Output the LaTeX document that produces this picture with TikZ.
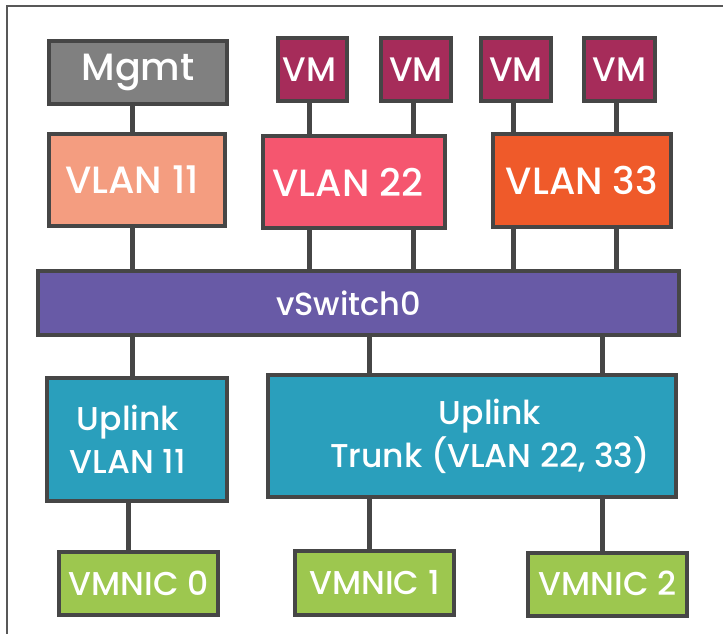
\documentclass[tikz,border=0pt]{standalone}
\usepackage{fontspec}
\setmainfont{Poppins Medium}
\usepackage{tikz}
\usetikzlibrary{positioning}

\definecolor{edge}{HTML}{464646}
\definecolor{mgmtgray}{HTML}{808080}
\definecolor{vmred}{HTML}{A62C5A}
\definecolor{vlanA}{HTML}{F49D80}
\definecolor{vlanB}{HTML}{F5566F}
\definecolor{vlanC}{HTML}{EF5A2A}
\definecolor{switchpurple}{HTML}{685AA6}
\definecolor{uplinkblue}{HTML}{2A9FBC}
\definecolor{nicgreen}{HTML}{9DC74F}

\tikzset{
    box/.style={draw=edge, line width=4pt, inner sep=0pt, text=white, align=center},
    big/.style={font=\fontsize{38}{44}\selectfont},
    vmfont/.style={font=\fontsize{34}{40}\selectfont},
    mid/.style={font=\fontsize{33}{43}\selectfont},
    link/.style={draw=edge, line width=5pt},
}

\begin{document}
\begin{tikzpicture}[x=1pt, y=-1pt]
    \useasboundingbox (0,0) rectangle (723,634);
    % frame
    \draw[edge!90, line width=1.5pt] (7,634) -- (7,6) -- (723,6);

    % port groups
    \node [box, big, fill=mgmtgray, minimum width=178pt, minimum height=63pt] (mgmt) at (138,72.5) {Mgmt};
    \node [box, big, fill=vlanA, minimum width=176pt, minimum height=92pt] (vlan11) at (137,180) {\hspace*{-10pt}VLAN 11};
    \node [box, big, fill=vlanB, minimum width=182pt, minimum height=92pt] (vlan22) at (354,182) {\hspace*{-12pt}VLAN 22};
    \node [box, big, fill=vlanC, minimum width=178pt, minimum height=93pt] (vlan33) at (582,180.5) {VLAN 33};

    % virtual machines
    \node [box, vmfont, fill=vmred, minimum width=69pt, minimum height=63pt] (vm1) at (312.5,69.5) {\hspace*{-6pt}VM};
    \node [box, vmfont, fill=vmred, minimum width=70pt, minimum height=63pt] (vm2) at (416,69.5) {\raisebox{-5pt}{VM}};
    \node [box, vmfont, fill=vmred, minimum width=70pt, minimum height=63pt] (vm3) at (516,69.5) {VM};
    \node [box, vmfont, fill=vmred, minimum width=71pt, minimum height=63pt] (vm4) at (619.5,69.5) {\raisebox{-5pt}{VM}};

    % switch
    \node [box, font=\fontsize{32}{36}\selectfont, fill=switchpurple, minimum width=641pt, minimum height=64pt] (sw) at (358.5,303) {\hspace*{-20pt}vSwitch0};

    % uplinks
    \node [box, mid, fill=uplinkblue, minimum width=180pt, minimum height=123pt] (up11) at (137,439.5) {\hspace*{-18pt}Uplink\\\hspace*{-18pt}VLAN 11};
    \node [box, mid, fill=uplinkblue, minimum width=408pt, minimum height=122pt] (trunk) at (472,436) {\hspace*{36pt}Uplink\\\hspace*{36pt}Trunk (VLAN 22, 33)};

    % physical adapters
    \node [box, mid, fill=nicgreen, minimum width=159pt, minimum height=63pt] (nic0) at (138.5,583.5) {\raisebox{-6pt}{VMNIC 0}};
    \node [box, mid, fill=nicgreen, minimum width=159pt, minimum height=64pt] (nic1) at (374.5,583) {VMNIC 1};
    \node [box, mid, fill=nicgreen, minimum width=159pt, minimum height=63pt] (nic2) at (607.5,584.5) {\raisebox{2pt}{VMNIC 2}};

    \coordinate (col) at (132,0);

    % connectors
    \draw [link] (col |- mgmt.south) -- (col |- vlan11.north);
    \draw [link] (col |- vlan11.south) -- (col |- sw.north);
    \draw [link] (col |- sw.south) -- (col |- up11.north);
    \draw [link] ([xshift=-4pt]col |- up11.south) -- ([xshift=-4pt]col |- nic0.north);
    \foreach \vm/\net in {vm1/vlan22, vm2/vlan22, vm3/vlan33, vm4/vlan33} {
        \draw [link] ([xshift=-3pt]\vm.south) -- ([xshift=-3pt]\vm.south |- \net.north);
        \draw [link] ([xshift=-3pt]\vm.south |- \net.south) -- ([xshift=-3pt]\vm.south |- sw.north);
    }
    \foreach \nic in {nic1, nic2} {
        \draw [link] ([xshift=-5pt]\nic.north |- sw.south) -- ([xshift=-5pt]\nic.north |- trunk.north);
        \draw [link] ([xshift=-5pt]\nic.north |- trunk.south) -- ([xshift=-5pt]\nic.north);
    }
\end{tikzpicture}
\end{document}
